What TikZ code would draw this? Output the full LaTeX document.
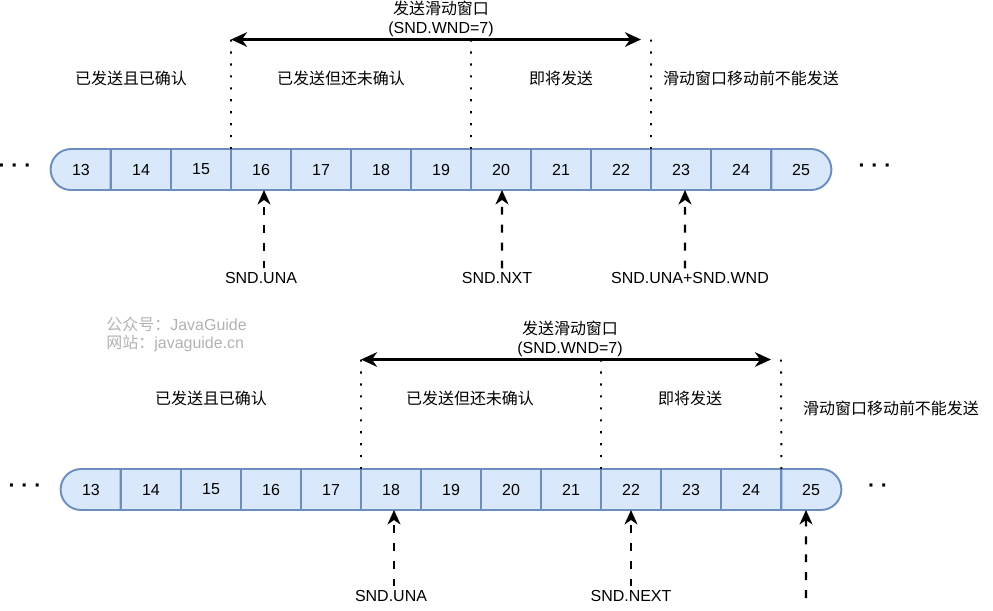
\documentclass[tikz,border=0pt]{standalone}
\usepackage{fontspec}
\setmainfont{Liberation Sans}
\newfontfamily\cjk{Noto Sans CJK SC}
\usetikzlibrary{arrows.meta,shapes.misc}
\definecolor{cellfill}{HTML}{DAE8FC}
\definecolor{celldraw}{HTML}{6C8EBF}
\tikzset{
	txt/.style={inner sep=0pt, font=\fontsize{9.1}{10.8}\selectfont\cjk},
	lbl/.style={inner sep=2pt, font=\fontsize{9.1}{10.8}\selectfont},
	more/.style={inner sep=0pt, font=\fontsize{12}{12}\selectfont\bfseries},
	wmark/.style={inner sep=0pt, text=black!30, font=\fontsize{9.1}{10.8}\selectfont},
	cell/.style={rectangle, draw=celldraw, fill=cellfill, line width=1.1pt, inner sep=0pt, outer sep=0pt, minimum width=1.2cm, minimum height=0.82cm, font=\fontsize{9.1}{10.8}\selectfont},
	cellL/.style={cell, rounded rectangle, rounded rectangle right arc=none},
	cellR/.style={cell, rounded rectangle, rounded rectangle left arc=none},
	wnd/.style={{Stealth[length=3.2mm,width=2.9mm,inset=1mm]}-{Stealth[length=3.2mm,width=2.9mm,inset=1mm]}, line width=1.7pt},
	winedge/.style={line width=1.1pt, dash pattern=on 1.2pt off 5.6pt},
	ptr/.style={-{Stealth[length=2.9mm,width=2.6mm,inset=0.9mm]}, line width=1.2pt, dash pattern=on 4.5pt off 5.7pt},
}

\begin{document}
\begin{tikzpicture}[x=0.02cm, y=-0.02cm]
		%%%%% START %%%%%
		\useasboundingbox (0, 0) rectangle (993, 610);
		
		% first row
		\node[cellL] (a13) at (81, 169.5) {13};
		\node[cell] (a14) at (141, 169.5) {14};
		\node[cell] (a15) at (201, 169.5) {15};
		\node[cell] (a16) at (261, 169.5) {16};
		\node[cell] (a17) at (321, 169.5) {17};
		\node[cell] (a18) at (381, 169.5) {18};
		\node[cell] (a19) at (441, 169.5) {19};
		\node[cell] (a20) at (501, 169.5) {20};
		\node[cell] (a21) at (561, 169.5) {21};
		\node[cell] (a22) at (621, 169.5) {22};
		\node[cell] (a23) at (681, 169.5) {23};
		\node[cell] (a24) at (741, 169.5) {24};
		\node[cellR] (a25) at (801, 169.5) {25};
		
		\node[more] (moreA) at (15, 168) {· · ·};
		\node[more] (moreB) at (875, 168) {· · ·};
		
		\node[txt, align=center] (winA) at (441, 18.5) {发送滑动窗口\\\fontspec{Liberation Sans}(SND.WND=7)};
		\node[txt] (doneA) at (131, 78) {已发送且已确认};
		\node[txt] (waitA) at (341, 78) {已发送但还未确认};
		\node[txt] (nextA) at (561, 78) {即将发送};
		\node[txt] (noneA) at (751, 78) {滑动窗口移动前不能发送};
		
		\coordinate (wa1) at (231, 39.5);
		\coordinate (wa2) at (471, 39.5);
		\coordinate (wa3) at (651, 39.5);
		\coordinate (wa4) at (641, 39.5);
		\draw[wnd] (wa1) -- (wa4);
		\draw[winedge] (wa1) -- (a16.north west);
		\draw[winedge] (wa2) -- (a20.north west);
		\draw[winedge] (wa3) -- (a23.north west);
		
		\node[lbl] (unaA) at (261, 278) {SND.UNA};
		\node[lbl] (nxtA) at (497, 278) {SND.NXT};
		\node[lbl] (sumA) at (690, 278) {SND.UNA+SND.WND};
		\draw[ptr] ([xshift=0.06cm]unaA.north) -- ([xshift=0.06cm]a16.south);
		\draw[ptr] ([xshift=0.1cm]nxtA.north) -- ([xshift=0.02cm]a20.south);
		\draw[ptr] ([xshift=-0.1cm]sumA.north) -- ([xshift=0.08cm]a23.south);
		
		% watermark
		\node[wmark, anchor=west] (markA) at (106, 324) {{\cjk 公众号：}JavaGuide};
		\node[wmark, anchor=west] (markB) at (106, 343) {{\cjk 网站：}javaguide.cn};
		
		% second row
		\node[cellL] (b13) at (91, 489.5) {13};
		\node[cell] (b14) at (151, 489.5) {14};
		\node[cell] (b15) at (211, 489.5) {15};
		\node[cell] (b16) at (271, 489.5) {16};
		\node[cell] (b17) at (331, 489.5) {17};
		\node[cell] (b18) at (391, 489.5) {18};
		\node[cell] (b19) at (451, 489.5) {19};
		\node[cell] (b20) at (511, 489.5) {20};
		\node[cell] (b21) at (571, 489.5) {21};
		\node[cell] (b22) at (631, 489.5) {22};
		\node[cell] (b23) at (691, 489.5) {23};
		\node[cell] (b24) at (751, 489.5) {24};
		\node[cellR] (b25) at (811, 489.5) {25};
		
		\node[more] (moreC) at (25, 488) {· · ·};
		\node[more] (moreD) at (878, 488) {· ·};
		
		\node[txt, align=center] (winB) at (570, 338.5) {发送滑动窗口\\\fontspec{Liberation Sans}(SND.WND=7)};
		\node[txt] (doneB) at (211, 398) {已发送且已确认};
		\node[txt] (waitB) at (470, 398) {已发送但还未确认};
		\node[txt] (nextB) at (690, 398) {即将发送};
		\node[txt] (noneB) at (891, 408) {滑动窗口移动前不能发送};
		
		\coordinate (wb1) at (361, 359.5);
		\coordinate (wb2) at (601, 359.5);
		\coordinate (wb3) at (781, 359.5);
		\coordinate (wb4) at (771, 359.5);
		\draw[wnd] (wb1) -- (wb4);
		\draw[winedge] (wb1) -- (b18.north west);
		\draw[winedge] (wb2) -- (b22.north west);
		\draw[winedge] (wb3) -- (b25.north west);
		
		\node[lbl] (unaB) at (391, 596) {SND.UNA};
		\node[lbl] (nxtB) at (631, 596) {SND.NEXT};
		\coordinate (endB) at (806, 598);
		\draw[ptr] ([xshift=0.06cm]unaB.north) -- ([xshift=0.06cm]b18.south);
		\draw[ptr] (nxtB.north) -- (b22.south);
		\draw[ptr] (endB) -- ([xshift=-0.1cm]b25.south);
		%%%%% END %%%%%
	\end{tikzpicture}
\end{document}
